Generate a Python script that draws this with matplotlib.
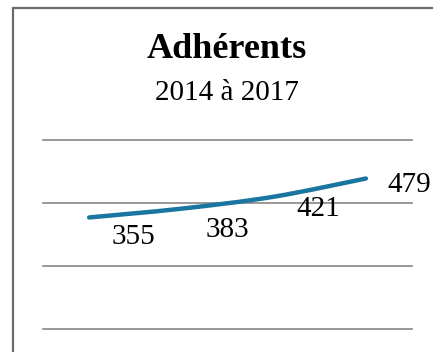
import numpy as np
import matplotlib
matplotlib.use("Agg")
import matplotlib.pyplot as plt
from matplotlib.path import Path
from matplotlib.patches import PathPatch, Rectangle

# ===== DATA =====
years = ["2014", "2015", "2016", "2017"]
adherents = [355, 383, 421, 479]

TITLE = "Adhérents"
SUBTITLE = "2014 à 2017"

LINE_COLOR = "#1a76a0"
GRID_COLOR = "#868686"
FONT = ["Liberation Serif", "DejaVu Serif"]

# label offsets in points (right / below the point)
label_offsets = [(32, -14), (33, -15), (32, -9), (31, -5)]

fig = plt.figure(figsize=(4.33, 3.52), dpi=100)

# outer frame (runs off the right and bottom edges)
fig.patches.append(Rectangle((12.5 / 433, -0.1), 1.2, 1 - 8.5 / 352 + 0.1,
                             transform=fig.transFigure, fill=False,
                             edgecolor="#6b6b6b", linewidth=1.6))

ax = fig.add_axes([43 / 433, 1 - 329 / 352, 369 / 433, 188.5 / 352])
x = np.arange(len(years))

# smoothed line: cubic bezier segments (catmull-rom style tangents)
pts = np.column_stack([x, adherents]).astype(float)
verts = [pts[0]]
codes = [Path.MOVETO]
for i in range(len(pts) - 1):
    p0 = pts[i - 1] if i > 0 else pts[i]
    p3 = pts[i + 2] if i + 2 < len(pts) else pts[i + 1]
    c1 = pts[i] + (pts[i + 1] - p0) / 6
    c2 = pts[i + 1] - (p3 - pts[i]) / 6
    verts += [c1, c2, pts[i + 1]]
    codes += [Path.CURVE4] * 3
ax.add_patch(PathPatch(Path(verts, codes), fill=False, edgecolor=LINE_COLOR,
                       linewidth=3.2, capstyle="round", zorder=3))

for xi, v, off in zip(x, adherents, label_offsets):
    ax.annotate(str(v), (xi, v), xytext=off, textcoords="offset points",
                ha="center", va="center", fontsize=21, family=FONT,
                color="#000000", zorder=4)

ax.set_xlim(-0.5, len(years) - 0.5)
ax.set_ylim(0, 600)
ax.set_yticks([0, 200, 400, 600])
ax.yaxis.grid(True, color=GRID_COLOR, linewidth=1.2)
for gl in ax.yaxis.get_gridlines():
    gl.set_clip_on(False)
ax.set_axisbelow(True)
ax.tick_params(left=False, bottom=False, labelleft=False, labelbottom=False)
for s in ax.spines.values():
    s.set_visible(False)
ax.patch.set_alpha(0)

fig.text(227 / 433, 1 - 50 / 352, TITLE, ha="center", va="center",
         fontsize=26, fontweight="bold", family=FONT)
fig.text(227 / 433, 1 - 93 / 352, SUBTITLE, ha="center", va="center",
         fontsize=21, family=FONT)

fig.savefig("out.png", dpi=100)
